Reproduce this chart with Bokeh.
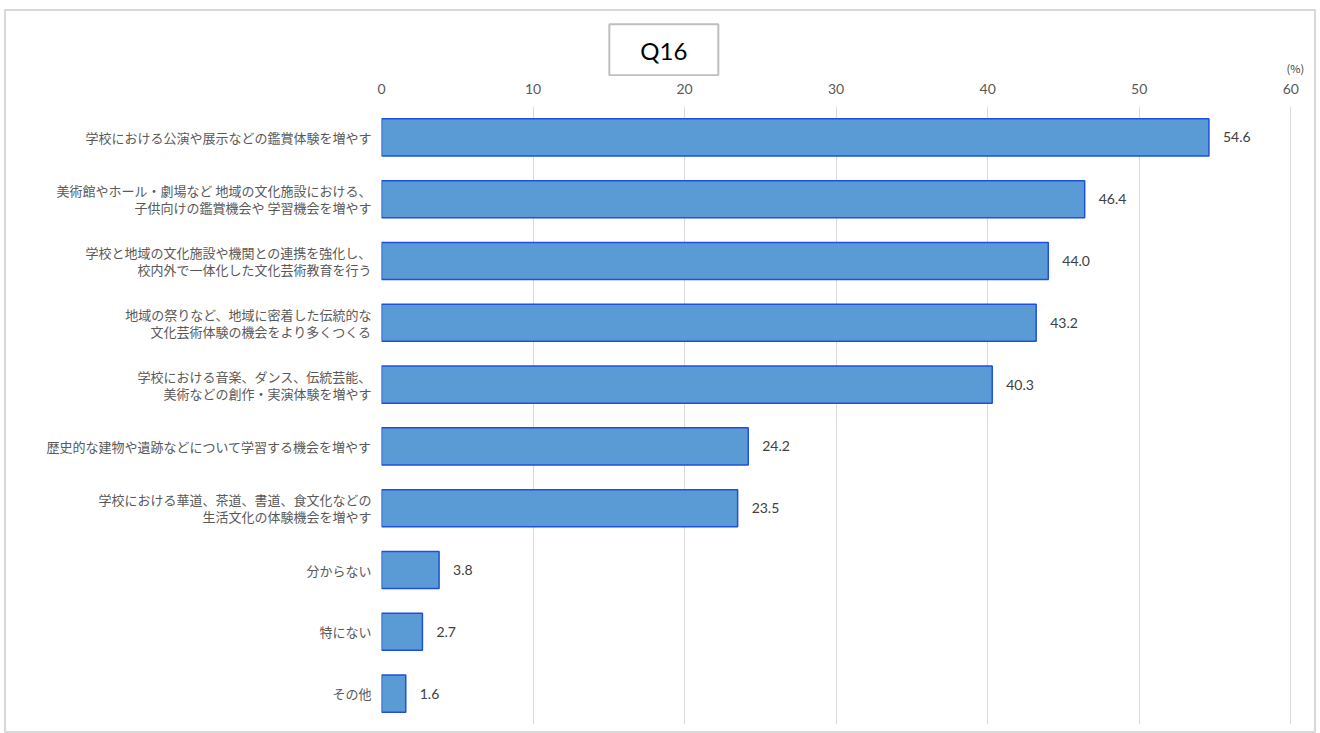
from bokeh.plotting import figure
from bokeh.layouts import column
from bokeh.models import Range1d, FactorRange, ColumnDataSource
from bokeh.core.properties import value
from bokeh.embed import file_html
from bokeh.resources import INLINE

categories = [
    "学校における公演や展示などの鑑賞体験を増やす",
    "美術館やホール・劇場など 地域の文化施設における、\n子供向けの鑑賞機会や 学習機会を増やす",
    "学校と地域の文化施設や機関との連携を強化し、\n校内外で一体化した文化芸術教育を行う",
    "地域の祭りなど、地域に密着した伝統的な\n文化芸術体験の機会をより多くつくる",
    "学校における音楽、ダンス、伝統芸能、\n美術などの創作・実演体験を増やす",
    "歴史的な建物や遺跡などについて学習する機会を増やす",
    "学校における華道、茶道、書道、食文化などの\n生活文化の体験機会を増やす",
    "分からない",
    "特にない",
    "その他",
]
values = [54.6, 46.4, 44.0, 43.2, 40.3, 24.2, 23.5, 3.8, 2.7, 1.6]
x_ticks = [0, 10, 20, 30, 40, 50, 60]
labels = ["%.1f" % v for v in values]
title_text = ["Q16"]
unit_text = ["(%)"]

JP = "Noto Sans CJK JP"
NUM = "Lato"
BORDER = "2px solid #d9d9d9"

x_range = Range1d(0, 61.5)

# ---- header strip (title box and unit) ----
h = figure(
    width=1312, height=67,
    x_range=x_range, y_range=Range1d(65, 0),
    output_backend="svg", toolbar_location=None,
    min_border_left=375, min_border_right=5, min_border_top=0, min_border_bottom=0,
)
h.styles = {"border-top": BORDER, "border-left": BORDER, "border-right": BORDER,
            "box-sizing": "border-box"}
h.axis.visible = False
h.grid.visible = False
h.outline_line_color = None
h.rect(x=[18.63], y=[37], width=109, height=51, width_units="screen", height_units="screen",
       fill_color="white", line_color="#bfbfbf", line_width=2)
h.text(x=[18.63], y=[38], text=title_text, text_align="center", text_baseline="middle",
       text_font=value(NUM), text_font_size="24px", text_color="#000000")
h.text(x=[60.3], y=[54.5], text=unit_text, text_align="center", text_baseline="middle",
       text_font=value(JP), text_font_size="11px", text_color="#404040")

# ---- main chart ----
source = ColumnDataSource(dict(cat=categories, val=values, lab=labels))

p = figure(
    width=1312, height=657,
    y_range=FactorRange(factors=list(reversed(categories)), range_padding=0),
    x_range=x_range,
    x_axis_location="above",
    output_backend="svg", toolbar_location=None,
    min_border_left=375, min_border_right=5, min_border_top=30, min_border_bottom=9,
)
p.styles = {"border-bottom": BORDER, "border-left": BORDER, "border-right": BORDER,
            "box-sizing": "border-box"}
p.outline_line_color = None

p.hbar(y="cat", right="val", left=0, height=0.6, source=source,
       fill_color="#5B9BD5", line_color="#1F4FE0", line_width=1.5)

p.text(x="val", y="cat", text="lab", source=source, x_offset=14,
       text_baseline="middle", text_align="left",
       text_font=value(NUM), text_font_size="14px", text_color="#404040")

p.xaxis.ticker = x_ticks
p.xaxis.axis_line_color = None
p.xaxis.major_tick_line_color = None
p.xaxis.minor_tick_line_color = None
p.xaxis.major_tick_out = 0
p.xaxis.major_tick_in = 0
p.xaxis.major_label_standoff = 13
p.xaxis.major_label_text_font = NUM
p.xaxis.major_label_text_font_size = "14px"
p.xaxis.major_label_text_color = "#595959"

p.yaxis.axis_line_color = None
p.yaxis.major_tick_line_color = None
p.yaxis.minor_tick_line_color = None
p.yaxis.major_tick_out = 0
p.yaxis.major_tick_in = 0
p.yaxis.major_label_standoff = 10
p.yaxis.major_label_text_font = JP
p.yaxis.major_label_text_font_size = "13px"
p.yaxis.major_label_text_line_height = 0.9
p.yaxis.major_label_text_color = "#595959"

p.xgrid.grid_line_color = "#d9d9d9"
p.ygrid.grid_line_color = None

layout = column(h, p, spacing=0, styles={"margin-left": "4px", "margin-top": "9px"})

open("out.html", "w").write(file_html(layout, INLINE))
